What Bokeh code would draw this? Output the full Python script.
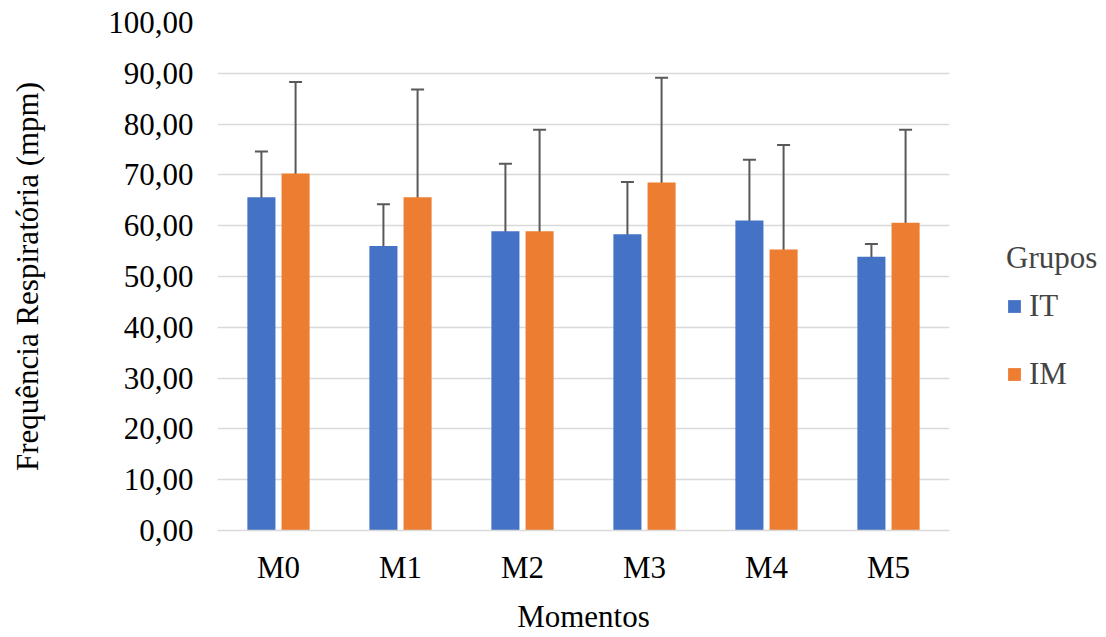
from bokeh.plotting import figure
from bokeh.models import ColumnDataSource, Whisker, Legend, LegendItem, CustomJSTickFormatter, FixedTicker, Range1d
from bokeh.transform import dodge
from bokeh.embed import file_html
from bokeh.resources import INLINE

categories = ["M0", "M1", "M2", "M3", "M4", "M5"]
it_mean = [65.6, 56.0, 58.9, 58.3, 61.0, 53.9]
it_upper = [74.6, 64.2, 72.2, 68.6, 73.0, 56.4]
it_lower = [56.6, 47.6, 45.7, 48.0, 48.9, 51.5]
im_mean = [70.3, 65.6, 58.9, 68.5, 55.3, 60.6]
im_upper = [88.3, 86.8, 78.9, 89.1, 75.9, 78.9]
im_lower = [52.3, 44.5, 39.0, 48.2, 34.7, 42.5]
y_ticks = [0, 10, 20, 30, 40, 50, 60, 70, 80, 90, 100]

FONT = "Liberation Serif"
FS = "31px"
BLUE = "#4472C4"
ORANGE = "#ED7D31"
ERR = "#595959"

src = ColumnDataSource(dict(cat=categories, it=it_mean, itu=it_upper, itl=it_lower,
                            im=im_mean, imu=im_upper, iml=im_lower))

p = figure(x_range=categories, y_range=Range1d(0, 100),
           frame_width=732, frame_height=508,
           output_backend="svg", toolbar_location=None,
           min_border_left=217, min_border_right=149, min_border_top=22, min_border_bottom=90)
p.outline_line_color = None
p.background_fill_color = "white"

off = 0.14
bw = 0.23
r1 = p.vbar(x=dodge("cat", -off, range=p.x_range), top="it", width=bw, source=src,
            fill_color=BLUE, line_color=None)
r2 = p.vbar(x=dodge("cat", off, range=p.x_range), top="im", width=bw, source=src,
            fill_color=ORANGE, line_color=None)

for col, lo, hi in ((-off, "itl", "itu"), (off, "iml", "imu")):
    w = Whisker(base=dodge("cat", col, range=p.x_range), upper=hi, lower=lo, source=src,
                line_color=ERR, line_width=2)
    for h in (w.upper_head, w.lower_head):
        h.size = 13
        h.line_color = ERR
        h.line_width = 2
    p.add_layout(w)

p.yaxis.ticker = FixedTicker(ticks=y_ticks)
p.yaxis.formatter = CustomJSTickFormatter(code="return tick.toFixed(2).replace('.', ',');")
p.ygrid.grid_line_color = "#d9d9d9"
p.ygrid.grid_line_width = 1.5
p.xgrid.grid_line_color = None

for ax in (p.xaxis, p.yaxis):
    ax.axis_line_color = None
    ax.major_tick_line_color = None
    ax.minor_tick_line_color = None
    ax.major_label_text_font = FONT
    ax.major_label_text_font_size = FS
    ax.major_label_text_color = "black"
    ax.axis_label_text_font = FONT
    ax.axis_label_text_font_size = FS
    ax.axis_label_text_font_style = "normal"
    ax.axis_label_text_color = "black"

p.xaxis.axis_line_color = "#d9d9d9"
p.xaxis.axis_line_width = 1.5
p.xaxis.major_label_standoff = 13
p.xaxis.axis_label = "Momentos"
p.xaxis.axis_label_standoff = 11
p.yaxis.major_label_standoff = 18
p.yaxis.axis_label = "Frequência Respiratória (mpm)"
p.yaxis.axis_label_standoff = 60

legend = Legend(items=[LegendItem(label="IT", renderers=[r1]), LegendItem(label="IM", renderers=[r2])],
                location=(57, 138), title="Grupos", orientation="vertical")
legend.title_text_font = FONT
legend.title_text_font_size = FS
legend.title_text_font_style = "normal"
legend.title_standoff = 12
legend.label_text_font = FONT
legend.label_text_font_size = FS
legend.glyph_width = 16
legend.glyph_height = 16
legend.label_height = 30
legend.spacing = 32
legend.label_standoff = 7
legend.padding = 10
legend.margin = 0
legend.border_line_color = None
legend.background_fill_alpha = 0
p.add_layout(legend, "right")

open("out.html", "w").write(file_html(p, INLINE))
